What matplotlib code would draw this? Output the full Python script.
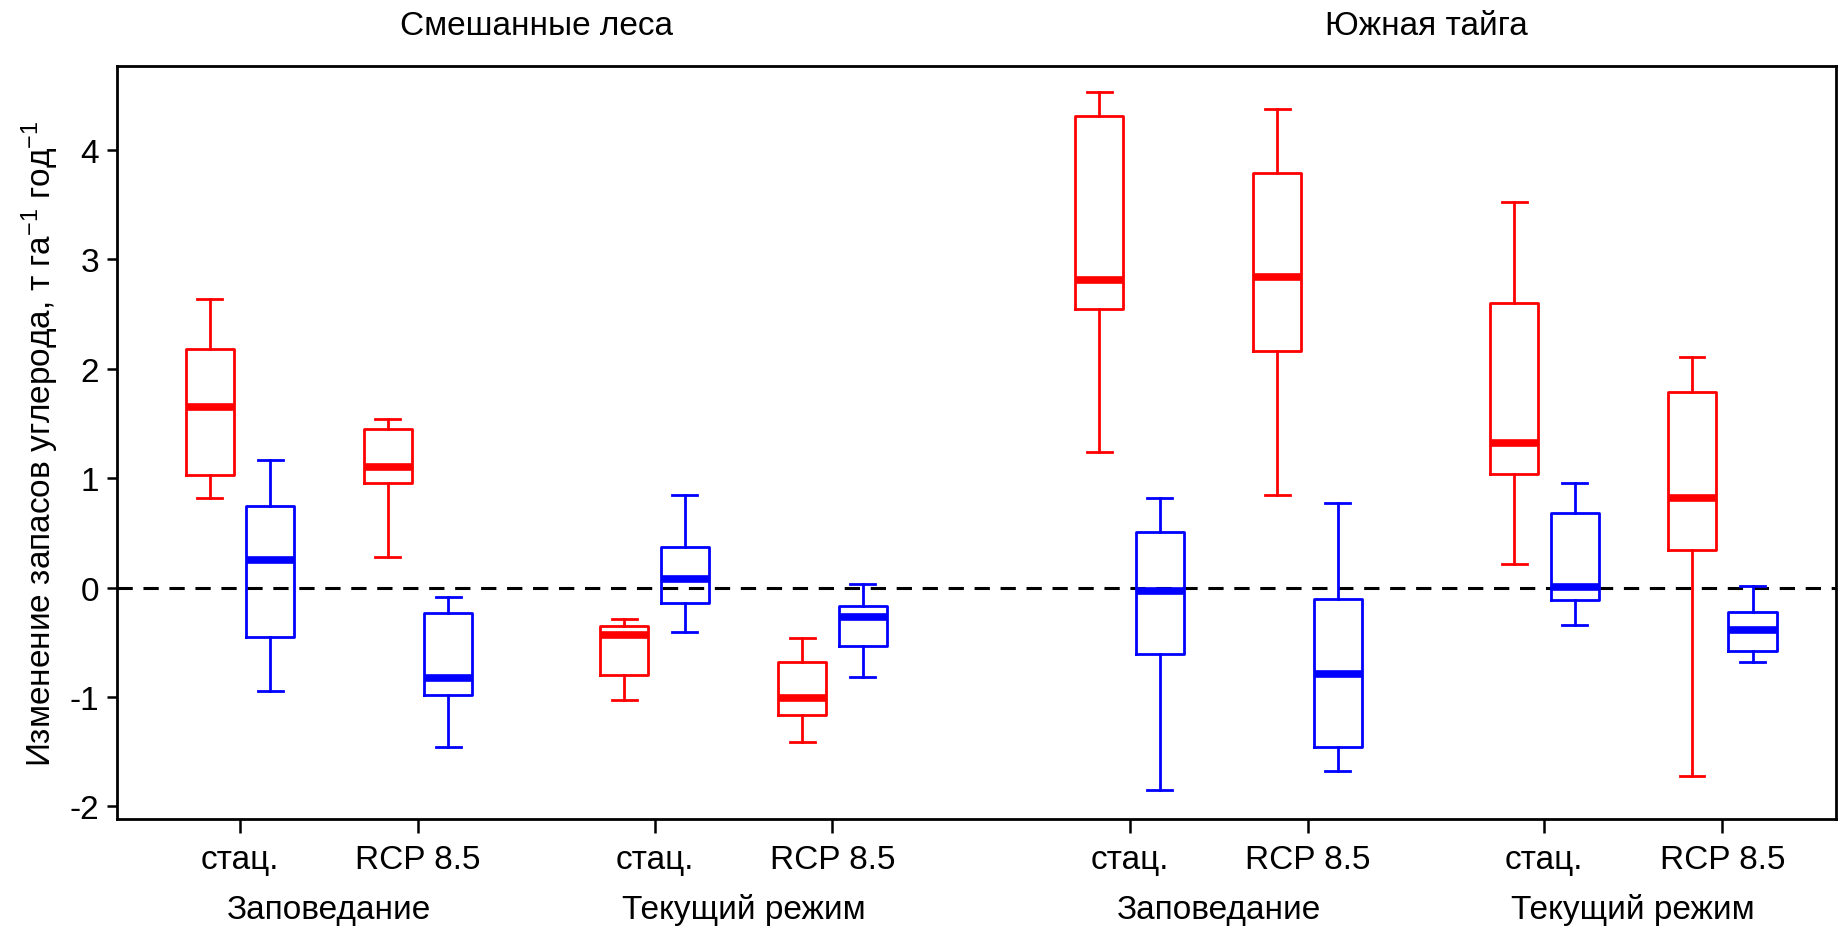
import matplotlib
matplotlib.use('Agg')
import matplotlib.pyplot as plt

plt.rcParams['font.family'] = ['Liberation Sans', 'DejaVu Sans']
plt.rcParams['axes.unicode_minus'] = False
plt.rcParams['mathtext.default'] = 'regular'

# positions of the 8 scenario groups (стац. / RCP 8.5 x режим x зона)
positions = [1, 2, 3.33, 4.33, 6, 7, 8.33, 9.33]
tick_labels = ['стац.', 'RCP 8.5'] * 4
regime_labels = ['Заповедание', 'Текущий режим', 'Заповедание', 'Текущий режим']
zone_labels = ['Смешанные леса', 'Южная тайга']

# red series
red_lo = [0.82, 0.28, -1.03, -1.415, 1.24, 0.85, 0.22, -1.72]
red_q1 = [1.03, 0.96, -0.80, -1.165, 2.55, 2.16, 1.04, 0.345]
red_med = [1.65, 1.10, -0.43, -1.01, 2.81, 2.84, 1.32, 0.82]
red_q3 = [2.18, 1.45, -0.355, -0.677, 4.31, 3.79, 2.60, 1.79]
red_hi = [2.64, 1.54, -0.29, -0.46, 4.53, 4.38, 3.53, 2.105]

# blue series
blue_lo = [-0.95, -1.46, -0.41, -0.82, -1.85, -1.68, -0.345, -0.68]
blue_q1 = [-0.45, -0.985, -0.145, -0.537, -0.61, -1.46, -0.11, -0.58]
blue_med = [0.25, -0.83, 0.08, -0.265, -0.03, -0.787, 0.01, -0.39]
blue_q3 = [0.75, -0.23, 0.37, -0.165, 0.51, -0.107, 0.68, -0.22]
blue_hi = [1.17, -0.086, 0.846, 0.034, 0.817, 0.77, 0.96, 0.015]


def make_stats(lo, q1, med, q3, hi):
    stats = []
    for i in range(len(lo)):
        stats.append({'whislo': lo[i], 'q1': q1[i], 'med': med[i],
                      'q3': q3[i], 'whishi': hi[i], 'fliers': []})
    return stats


fig = plt.figure(figsize=(18.38, 9.29), dpi=100)
ax = fig.add_axes([0.0637, 0.1173, 0.9353, 0.8107])

ax.axhline(0, color='black', lw=2.2, ls=(0, (5, 3.5)), zorder=1)

offset = 0.17
for color, s, sign in [('#ff0000', make_stats(red_lo, red_q1, red_med, red_q3, red_hi), -1),
                       ('#0000ff', make_stats(blue_lo, blue_q1, blue_med, blue_q3, blue_hi), 1)]:
    pos = [p + sign * offset for p in positions]
    ax.bxp(s, positions=pos, widths=0.27, showfliers=False, capwidths=0.14,
           boxprops=dict(color=color, lw=2.0),
           whiskerprops=dict(color=color, lw=2.0, ls='-'),
           capprops=dict(color=color, lw=2.0),
           medianprops=dict(color=color, lw=5.5, solid_capstyle='butt'),
           manage_ticks=False)

ax.set_xlim(0.31, 9.97)
ax.set_ylim(-2.116, 4.77)
ax.set_yticks([-2, -1, 0, 1, 2, 3, 4])
ax.set_yticklabels(['-2', '-1', '0', '1', '2', '3', '4'])
ax.set_xticks(positions)
ax.set_xticklabels(tick_labels)
ax.tick_params(axis='y', length=7, width=1.8, labelsize=24, pad=6)
ax.tick_params(axis='x', length=10, width=1.8, labelsize=24, pad=8)
for sp in ax.spines.values():
    sp.set_linewidth(2.0)

ax.set_ylabel('Изменение запасов углерода, т га$^{-1}$ год$^{-1}$', fontsize=24, labelpad=6)

trans = ax.get_xaxis_transform()
for i in range(4):
    xm = (positions[2 * i] + positions[2 * i + 1]) / 2
    ax.text(xm, -0.1195, regime_labels[i], transform=trans, ha='center', va='center', fontsize=24)
for i in range(2):
    xm = (positions[4 * i] + positions[4 * i + 3]) / 2
    ax.text(xm, 1.054, zone_labels[i], transform=trans, ha='center', va='center', fontsize=24)

fig.savefig('out.png', dpi=100)
